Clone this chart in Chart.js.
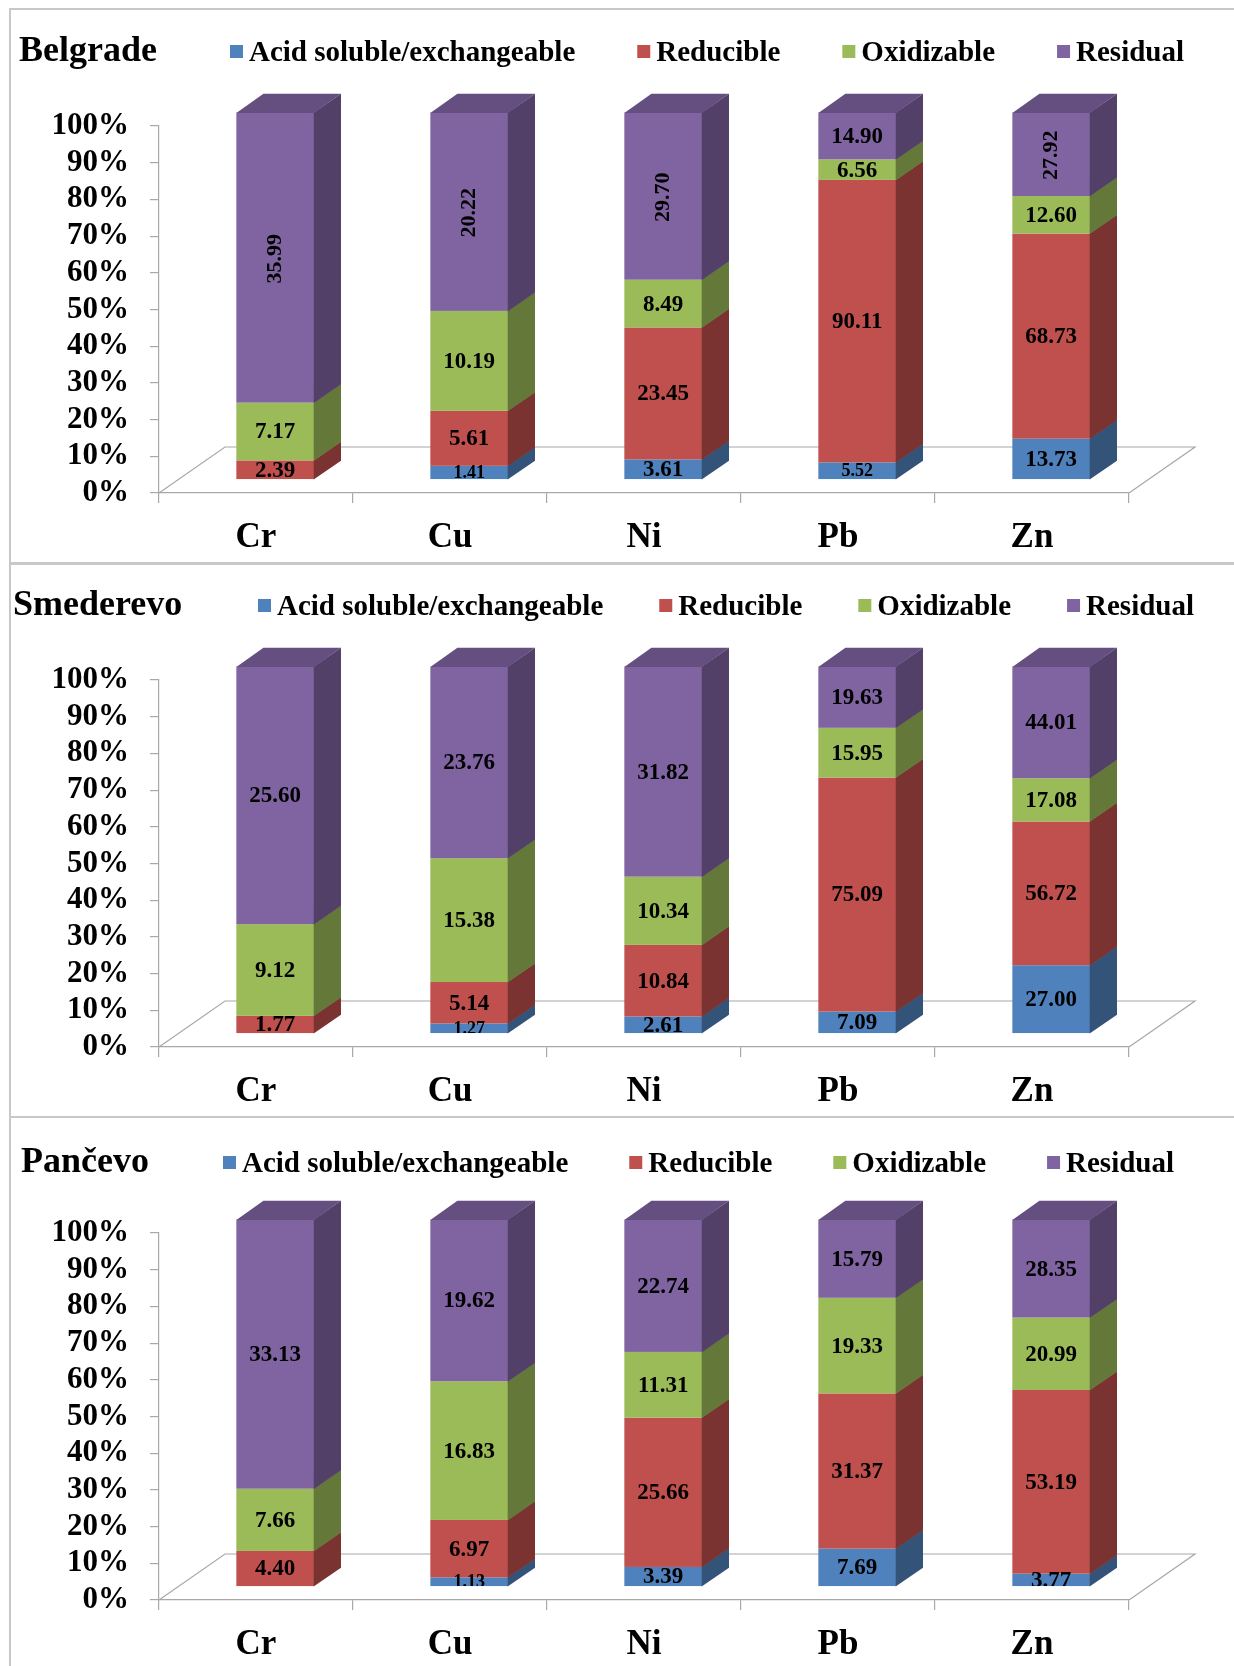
<!DOCTYPE html>
<html>
<head>
<meta charset="utf-8">
<script src="https://cdn.jsdelivr.net/npm/chart.js"></script>
<style>
  html, body { margin: 0; padding: 0; background: #fff; width: 1234px; height: 1666px; overflow: hidden; }
  canvas { position: absolute; left: 10px; }
  .frame { position: absolute; left: 9px; width: 1240px; box-sizing: border-box; border: 2px solid #c8c8c8; pointer-events: none; }
</style>
</head>
<body>
<canvas id="c1" style="top:10px"></canvas>
<canvas id="c2" style="top:564px"></canvas>
<canvas id="c3" style="top:1117px"></canvas>
<div class="frame" style="top:8px;height:556px"></div>
<div class="frame" style="top:563px;height:555px"></div>
<div class="frame" style="top:1116px;height:600px"></div>
<script>
// Metals on the horizontal axis and the four extraction fractions
const categories = ['Cr', 'Cu', 'Ni', 'Pb', 'Zn'];
const fractions = ['Acid soluble/exchangeable', 'Reducible', 'Oxidizable', 'Residual'];
const percentTicks = [0, 10, 20, 30, 40, 50, 60, 70, 80, 90, 100];

// Belgrade
const belgradeAcid        = [0, 1.41, 3.61, 5.52, 13.73];
const belgradeReducible   = [2.39, 5.61, 23.45, 90.11, 68.73];
const belgradeOxidizable  = [7.17, 10.19, 8.49, 6.56, 12.60];
const belgradeResidual    = [35.99, 20.22, 29.70, 14.90, 27.92];

// Smederevo
const smederevoAcid       = [0, 1.27, 2.61, 7.09, 27.00];
const smederevoReducible  = [1.77, 5.14, 10.84, 75.09, 56.72];
const smederevoOxidizable = [9.12, 15.38, 10.34, 15.95, 17.08];
const smederevoResidual   = [25.60, 23.76, 31.82, 19.63, 44.01];

// Pančevo
const pancevoAcid         = [0, 1.13, 3.39, 7.69, 3.77];
const pancevoReducible    = [4.40, 6.97, 25.66, 31.37, 53.19];
const pancevoOxidizable   = [7.66, 16.83, 11.31, 19.33, 20.99];
const pancevoResidual     = [33.13, 19.62, 22.74, 15.79, 28.35];

const fractionColors = ['#4F81BD', '#C0504D', '#9BBB59', '#8064A2'];
const SERIF = "'Liberation Serif', 'Times New Roman', serif";
const AXIS_COLOR = '#a8a8a8';

// 3D box geometry: depth of the floor and the slab occupied by the bars
const DEPTH = { x: 66, y: -46 };
const FRONT_T = 0.29, BACK_T = 0.70;

function shade(hex, f) {
  const n = parseInt(hex.slice(1), 16);
  const r = Math.round(((n >> 16) & 255) * f);
  const g = Math.round(((n >> 8) & 255) * f);
  const b = Math.round((n & 255) * f);
  return `rgb(${r},${g},${b})`;
}

const bars3d = {
  id: 'bars3d',
  beforeDatasetsDraw(chart, args, opts) {
    const ctx = chart.ctx;
    const { left, right, bottom } = chart.chartArea;

    // floor outline (front edge is the x axis border)
    ctx.save();
    ctx.strokeStyle = AXIS_COLOR;
    ctx.lineWidth = 1.2;
    ctx.beginPath();
    ctx.moveTo(left, bottom);
    ctx.lineTo(left + DEPTH.x, bottom + DEPTH.y);
    ctx.lineTo(right + DEPTH.x, bottom + DEPTH.y);
    ctx.lineTo(right, bottom);
    ctx.stroke();
    ctx.restore();

    const fx = FRONT_T * DEPTH.x, fy = FRONT_T * DEPTH.y;
    const sx = (BACK_T - FRONT_T) * DEPTH.x, sy = (BACK_T - FRONT_T) * DEPTH.y;
    const labels = [];

    ctx.save();
    chart.data.labels.forEach((_, i) => {
      let top = null;
      let barBottom = null;
      chart.data.datasets.forEach((ds, d) => {
        const raw = ds.raw[i];
        if (!raw) return;
        const el = chart.getDatasetMeta(d).data[i];
        const p = el.getProps(['x', 'y', 'base', 'width'], true);
        const l = p.x - p.width / 2 + fx, r = p.x + p.width / 2 + fx;
        const t = Math.min(p.y, p.base) + fy, b = Math.max(p.y, p.base) + fy;
        if (barBottom === null) barBottom = b;
        const col = ds.backgroundColor;
        ctx.fillStyle = col;
        ctx.fillRect(l, t, r - l, b - t);
        ctx.fillStyle = shade(col, 0.64);
        ctx.beginPath();
        ctx.moveTo(r - 0.3, t);
        ctx.lineTo(r + sx, t + sy);
        ctx.lineTo(r + sx, b + sy + 0.5);
        ctx.lineTo(r - 0.3, b + 0.5);
        ctx.closePath();
        ctx.fill();
        top = { l, r, t, col };
        const bottomOfBar = barBottom;
        labels.push({ i, d, raw, cx: (l + r) / 2, cy: (t + b) / 2, l, r, clipBottom: bottomOfBar });
      });
      if (top) {
        ctx.fillStyle = shade(top.col, 0.79);
        ctx.beginPath();
        ctx.moveTo(top.l, top.t + 0.3);
        ctx.lineTo(top.l + sx, top.t + sy);
        ctx.lineTo(top.r + sx, top.t + sy);
        ctx.lineTo(top.r, top.t + 0.3);
        ctx.closePath();
        ctx.fill();
      }
    });

    // value labels, centred on each front face
    const rotated = new Set(opts.rotated || []);
    const compact = new Set(opts.compact || []);
    labels.forEach(lb => {
      const key = lb.i + ':' + lb.d;
      const turned = rotated.has(key);
      const size = compact.has(key) ? 18 : (turned ? 22 : 23);
      ctx.save();
      ctx.beginPath();
      ctx.rect(lb.l - 20, 0, lb.r - lb.l + 40, lb.clipBottom);
      ctx.clip();
      ctx.fillStyle = '#000';
      ctx.font = `bold ${size}px ${SERIF}`;
      ctx.textAlign = 'center';
      ctx.textBaseline = 'middle';
      ctx.translate(lb.cx, lb.cy + 1);
      if (turned) ctx.rotate(-Math.PI / 2);
      ctx.fillText(lb.raw.toFixed(2), 0, 0);
      ctx.restore();
    });
    ctx.restore();
    return false;
  }
};

const headerPlugin = {
  id: 'header',
  afterDraw(chart, args, opts) {
    const ctx = chart.ctx;
    ctx.save();
    ctx.fillStyle = '#000';
    ctx.textBaseline = 'alphabetic';
    ctx.textAlign = 'left';
    ctx.font = `bold 36px ${SERIF}`;
    ctx.fillText(opts.title, opts.titleX, opts.baseline);
    ctx.font = `bold 29px ${SERIF}`;
    let x = opts.legendX;
    chart.data.datasets.forEach(ds => {
      ctx.fillStyle = ds.backgroundColor;
      ctx.fillRect(x, opts.baseline - 16, 13, 13);
      ctx.fillStyle = '#000';
      ctx.fillText(ds.label, x + 19, opts.baseline);
      x += 19 + ctx.measureText(ds.label).width + opts.legendGap;
    });
    ctx.restore();
  }
};

function makePanel(id, title, series, cfg) {
  const canvas = document.getElementById(id);
  canvas.width = 1224;
  canvas.height = 553;
  const totals = categories.map((_, i) => series.reduce((s, arr) => s + arr[i], 0));
  const datasets = fractions.map((name, d) => ({
    label: name,
    raw: series[d],
    data: series[d].map((v, i) => v / totals[i] * 100),
    backgroundColor: fractionColors[d],
    borderWidth: 0
  }));
  return new Chart(canvas, {
    type: 'bar',
    data: { labels: categories, datasets },
    options: {
      responsive: false,
      animation: false,
      devicePixelRatio: 1,
      layout: { padding: { top: 116, right: 105, left: 0, bottom: 0 } },
      datasets: { bar: { categoryPercentage: 1, barPercentage: 0.4 } },
      plugins: {
        legend: { display: false },
        tooltip: { enabled: false },
        title: { display: false },
        bars3d: { rotated: cfg.rotated, compact: cfg.compact },
        header: { title, titleX: cfg.titleX, baseline: cfg.baseline, legendX: cfg.legendX, legendGap: cfg.legendGap }
      },
      scales: {
        x: {
          stacked: true,
          afterFit: s => { s.height = 553 - 483; },
          grid: { offset: true, drawOnChartArea: false, drawTicks: true, tickLength: 10, color: AXIS_COLOR, lineWidth: 1.2 },
          border: { display: true, color: AXIS_COLOR, width: 1.2 },
          ticks: { color: '#000', padding: 14, font: { family: SERIF, size: 35, weight: 'bold' }, maxRotation: 0 }
        },
        y: {
          stacked: true,
          min: 0,
          max: 100,
          afterFit: s => { s.width = 149; },
          afterBuildTicks: s => { s.ticks = percentTicks.map(v => ({ value: v })); },
          grid: { drawOnChartArea: false, drawTicks: true, tickLength: 9, color: AXIS_COLOR, lineWidth: 1.2 },
          border: { display: true, color: AXIS_COLOR, width: 1.2 },
          ticks: { color: '#000', padding: 21, autoSkip: false, font: { family: SERIF, size: 31, weight: 'bold' }, callback: v => v + '%' }
        }
      }
    },
    plugins: [bars3d, headerPlugin]
  });
}

makePanel('c1', 'Belgrade',
  [belgradeAcid, belgradeReducible, belgradeOxidizable, belgradeResidual],
  { titleX: 9, baseline: 51, legendX: 220, legendGap: 62, rotated: ['0:3', '1:3', '2:3', '4:3'], compact: ['1:0', '3:0'] });
makePanel('c2', 'Smederevo',
  [smederevoAcid, smederevoReducible, smederevoOxidizable, smederevoResidual],
  { titleX: 3, baseline: 51, legendX: 248, legendGap: 56, rotated: [], compact: ['1:0'] });
makePanel('c3', 'Pančevo',
  [pancevoAcid, pancevoReducible, pancevoOxidizable, pancevoResidual],
  { titleX: 11, baseline: 55, legendX: 213, legendGap: 61, rotated: [], compact: ['1:0'] });
</script>
</body>
</html>
